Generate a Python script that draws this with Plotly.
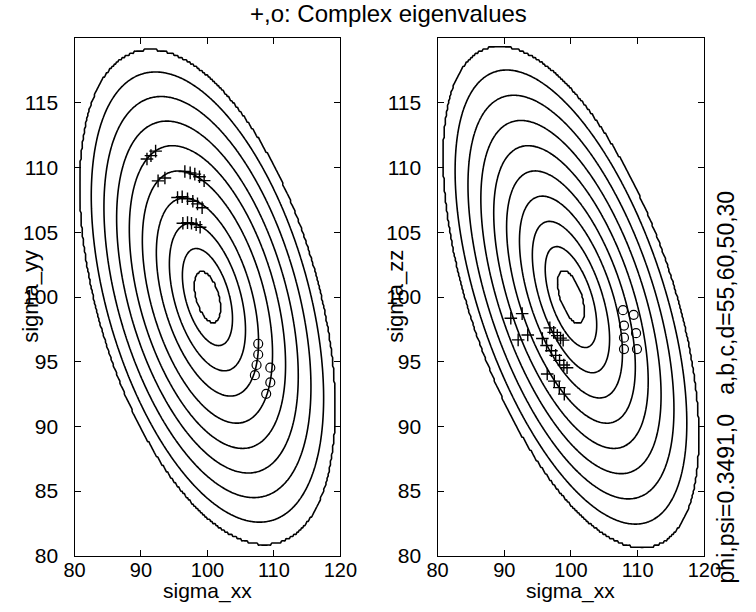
import numpy as np
import plotly.graph_objects as go

# ---------------- data ----------------
X_RANGE = [80, 120]
Y_RANGE = [80, 120]
X_TICKS = [80, 90, 100, 110, 120]
Y_TICKS = [80, 85, 90, 95, 100, 105, 110, 115, 120]
Y_TICK_TEXT = ["80", "85", "90", "95", "100", "105", "110", "115", ""]

CENTER = (100.0, 100.0)
# quadratic-form coefficients a*u^2 + 2*b*u*v + c*v^2 of each panel's contours
LEFT_SHAPE = (1.0, 0.45, 1.01)
RIGHT_SHAPE = (1.0, 0.55, 0.98)
# contour levels (height of each ellipse's top above the centre)
LEFT_LEVELS = [1.9, 3.75, 5.7, 7.65, 9.75, 11.7, 13.6, 15.5, 17.4, 19.2]
RIGHT_LEVELS = [1.95, 3.9, 5.85, 7.8, 9.75, 11.7, 13.65, 15.6, 17.55, 19.45]

# "+" markers (complex eigenvalues), left panel sigma_xx / sigma_yy
LEFT_PLUS_X = [90.9, 91.5, 92.2, 92.57, 93.6, 96.6, 97.4, 98.1, 98.8, 99.5,
               95.5, 96.2, 97.0, 97.8, 98.5, 99.2, 96.3, 97.0, 97.6, 98.3, 98.9]
LEFT_PLUS_Y = [110.67, 110.93, 111.28, 108.98, 109.2, 109.7, 109.6, 109.5, 109.3, 109.0,
               107.7, 107.75, 107.6, 107.4, 107.2, 106.9, 105.7, 105.75, 105.7, 105.6, 105.4]
# "o" markers, left panel
LEFT_O_X = [107.64, 107.64, 107.39, 107.14, 109.46, 109.46, 108.84]
LEFT_O_Y = [96.39, 95.56, 94.75, 93.96, 94.54, 93.40, 92.52]

# "+" markers, right panel sigma_xx / sigma_zz
RIGHT_PLUS_X = [90.98, 92.68, 92.08, 93.52,
                96.83, 97.41, 97.95, 98.44, 98.83,
                95.71, 96.34, 97.07, 97.71, 98.29, 98.93, 99.41,
                96.44, 97.5, 98.25, 99.0]
RIGHT_PLUS_Y = [98.36, 98.72, 96.69, 97.07,
                97.62, 97.27, 97.02, 96.83, 96.67,
                96.80, 96.26, 95.85, 95.49, 95.11, 94.75, 94.54,
                94.05, 93.5, 93.0, 92.5]
# "o" markers, right panel
RIGHT_O_X = [107.8, 107.95, 107.95, 107.95, 109.4, 109.76, 109.9]
RIGHT_O_Y = [98.99, 97.8, 96.86, 95.98, 98.63, 97.21, 95.98]

TITLE = "+,o: Complex eigenvalues"
SIDE_TEXT = "phi,psi=0.3491,0   a,b,c,d=55,60,50,30"

# ---------------- figure ----------------
W, H = 756, 612
FONT = "Liberation Sans, Arial, Helvetica, sans-serif"

gx = np.linspace(X_RANGE[0], X_RANGE[1], 241)
gy = np.linspace(Y_RANGE[0], Y_RANGE[1], 241)
U, V = np.meshgrid(gx - CENTER[0], gy - CENTER[1])


def level_field(shape, levels):
    a, b, c = shape
    d = a * c - b * b
    q = a * U ** 2 + 2 * b * U * V + c * V ** 2
    g = np.sqrt(q * a / d)
    idx = np.interp(g, levels, np.arange(1, len(levels) + 1),
                    left=0.0, right=len(levels) + 1.0)
    return np.round(idx, 4)


fig = go.Figure()

for shape, levels, xa, ya in [(LEFT_SHAPE, LEFT_LEVELS, "x", "y"),
                              (RIGHT_SHAPE, RIGHT_LEVELS, "x2", "y2")]:
    fig.add_trace(go.Contour(
        x=gx, y=gy, z=level_field(shape, levels),
        contours=dict(start=1, end=len(levels), size=1, coloring="lines"),
        colorscale=[[0, "black"], [1, "black"]],
        line=dict(width=1.6),
        showscale=False, hoverinfo="skip", xaxis=xa, yaxis=ya))

marker_plus = dict(symbol="cross-thin-open", size=9, color="black",
                   line=dict(color="black", width=1.4))
marker_o = dict(symbol="circle-open", size=9, color="black",
                line=dict(color="black", width=1.2))

for xs, ys, mk, xa, ya in [
    (LEFT_PLUS_X, LEFT_PLUS_Y, marker_plus, "x", "y"),
    (LEFT_O_X, LEFT_O_Y, marker_o, "x", "y"),
    (RIGHT_PLUS_X, RIGHT_PLUS_Y, marker_plus, "x2", "y2"),
    (RIGHT_O_X, RIGHT_O_Y, marker_o, "x2", "y2"),
]:
    fig.add_trace(go.Scatter(x=xs, y=ys, mode="markers", marker=mk,
                             xaxis=xa, yaxis=ya, hoverinfo="skip"))

axis_common = dict(
    range=X_RANGE, showgrid=False, zeroline=False, showline=True, linecolor="black",
    linewidth=1.4, mirror="ticks", ticks="inside", ticklen=6, tickwidth=1.2,
    tickcolor="black", tickfont=dict(family=FONT, size=21, color="black"),
)
xtickfont = dict(family=FONT, size=20, color="black")

yx0, yx1 = 1 - 566 / H, 1 - 39 / H
fig.update_layout(
    width=W, height=H, margin=dict(l=0, r=0, t=0, b=0),
    paper_bgcolor="white", plot_bgcolor="white", showlegend=False,
    xaxis=dict(axis_common, domain=[66 / W, 342 / W], tickvals=X_TICKS, anchor="y",
               tickfont=xtickfont, ticklabelstandoff=-4),
    yaxis=dict(axis_common, domain=[yx0, yx1], range=Y_RANGE, tickvals=Y_TICKS,
               ticktext=Y_TICK_TEXT, anchor="x", ticklabelstandoff=11),
    xaxis2=dict(axis_common, domain=[443 / W, 720 / W], tickvals=X_TICKS, anchor="y2",
                tickfont=xtickfont, ticklabelstandoff=-4),
    yaxis2=dict(axis_common, domain=[yx0, yx1], range=Y_RANGE, tickvals=Y_TICKS,
                ticktext=Y_TICK_TEXT, anchor="x2", ticklabelstandoff=11),
)

txt = dict(family=FONT, size=21, color="black")
ann = [
    dict(text=TITLE, x=392 / W, y=1 - 14 / H, font=dict(txt, size=24)),
    dict(text="sigma_xx", x=204 / W, y=1 - 602 / H, font=txt),
    dict(text="sigma_xx", x=581 / W, y=1 - 602 / H, font=txt),
    dict(text="sigma_yy", x=20 / W, y=1 - 302 / H, font=dict(txt, size=22), textangle=-90),
    dict(text="sigma_zz", x=399 / W, y=1 - 302 / H, font=dict(txt, size=22), textangle=-90),
    dict(text=SIDE_TEXT.replace("   ", "&nbsp;&nbsp;&nbsp;"), x=742 / W, y=1 - 394 / H,
         font=dict(txt, size=23), textangle=-90),
]
for a in ann:
    a.update(xref="paper", yref="paper", showarrow=False, xanchor="center", yanchor="middle",
             borderpad=0)
fig.update_layout(annotations=ann)

fig.write_html("out.html")
